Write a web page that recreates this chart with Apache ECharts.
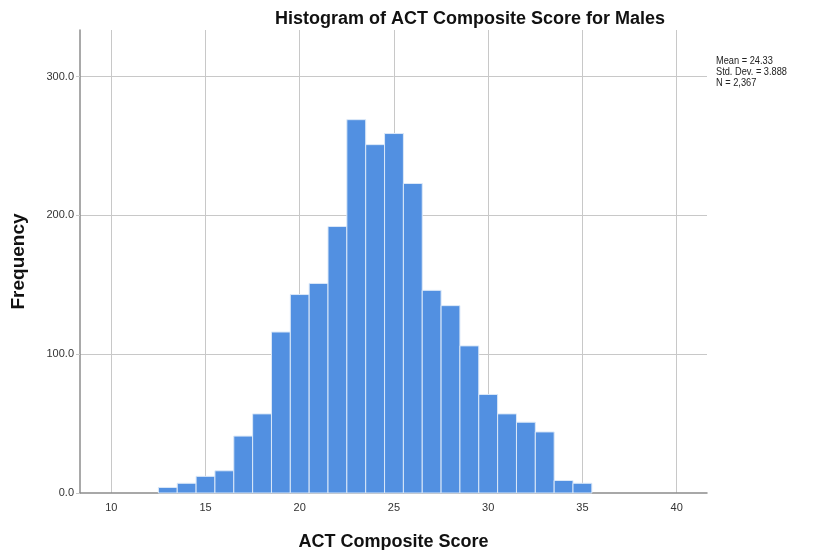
<!DOCTYPE html>
<html>
<head>
<meta charset="utf-8">
<script src="https://cdn.jsdelivr.net/npm/echarts@6/dist/echarts.min.js"></script>
<style>html,body{margin:0;padding:0;background:#fff}#c{width:813px;height:550px}</style>
</head>
<body>
<div id="c"></div>
<script>
var binCenters = [13,14,15,16,17,18,19,20,21,22,23,24,25,26,27,28,29,30,31,32,33,34,35];
var frequencies = [4,7,12,16,41,57,116,143,151,192,269,251,259,223,146,135,106,71,57,51,44,9,7];
var binWidth = 1;
var statsLines = ['Mean = 24.33', 'Std. Dev. = 3.888', 'N = 2,367'];
var titleText = 'Histogram of ACT Composite Score for Males';
var xTitle = 'ACT Composite Score';
var yTitle = 'Frequency';

var data = binCenters.map(function (c, i) { return [c, frequencies[i]]; });
var chart = echarts.init(document.getElementById('c'), null, {renderer: 'canvas'});
var FONT = '"Liberation Sans", Arial, sans-serif';
chart.setOption({
  animation: false,
  backgroundColor: '#fff',
  title: {
    text: titleText, left: 465, top: 5, textAlign: 'center',
    textStyle: {fontFamily: FONT, fontSize: 18, fontWeight: 'bold', color: '#111'}
  },
  grid: {left: 80, right: 106, top: 30, bottom: 57, containLabel: false, outerBoundsMode: 'none'},
  xAxis: {
    type: 'value', min: 8.34, max: 41.61,
    name: xTitle, nameLocation: 'middle', nameGap: 40,
    nameTextStyle: {fontFamily: FONT, fontSize: 18, fontWeight: 'bold', color: '#111'},
    axisLine: {show: true, onZero: false, lineStyle: {color: '#8c8c8c', width: 1.5}},
    axisTick: {show: false},
    axisLabel: {showMinLabel: false, showMaxLabel: false, margin: 9, fontFamily: FONT, fontSize: 11, color: '#333'},
    splitLine: {show: true, showMinLine: false, showMaxLine: false, lineStyle: {color: '#c8c8c8', width: 1}}
  },
  yAxis: {
    type: 'value', min: 0, max: 333.6, interval: 100,
    name: yTitle, nameLocation: 'middle', nameGap: 52, nameRotate: 90,
    nameTextStyle: {fontFamily: FONT, fontSize: 19, fontWeight: 'bold', color: '#111'},
    axisLine: {show: true, lineStyle: {color: '#8c8c8c', width: 1.5}},
    axisTick: {show: true, length: 4, lineStyle: {color: '#c8c8c8'}},
    axisLabel: {showMaxLabel: false, margin: 6, fontFamily: FONT, fontSize: 11, color: '#333',
      formatter: function (v) { return v.toFixed(1); }},
    splitLine: {show: true, showMinLine: false, showMaxLine: false, lineStyle: {color: '#c8c8c8', width: 1}}
  },
  graphic: [{
    type: 'text', x: 716, y: 55, scaleX: 0.84,
    style: {text: statsLines.join('\n'), font: '11px ' + FONT, fill: '#222', lineHeight: 11}
  }],
  series: [{
    type: 'custom',
    data: data,
    encode: {x: 0, y: 1},
    renderItem: function (params, api) {
      var c = api.value(0), f = api.value(1);
      var p0 = api.coord([c - binWidth / 2, f]);
      var p1 = api.coord([c + binWidth / 2, 0]);
      return {
        type: 'rect',
        shape: {x: p0[0], y: p0[1], width: p1[0] - p0[0], height: p1[1] - p0[1]},
        style: {fill: '#5290e1', stroke: '#dbe8f8', lineWidth: 1}
      };
    }
  }]
});
</script>
</body>
</html>
